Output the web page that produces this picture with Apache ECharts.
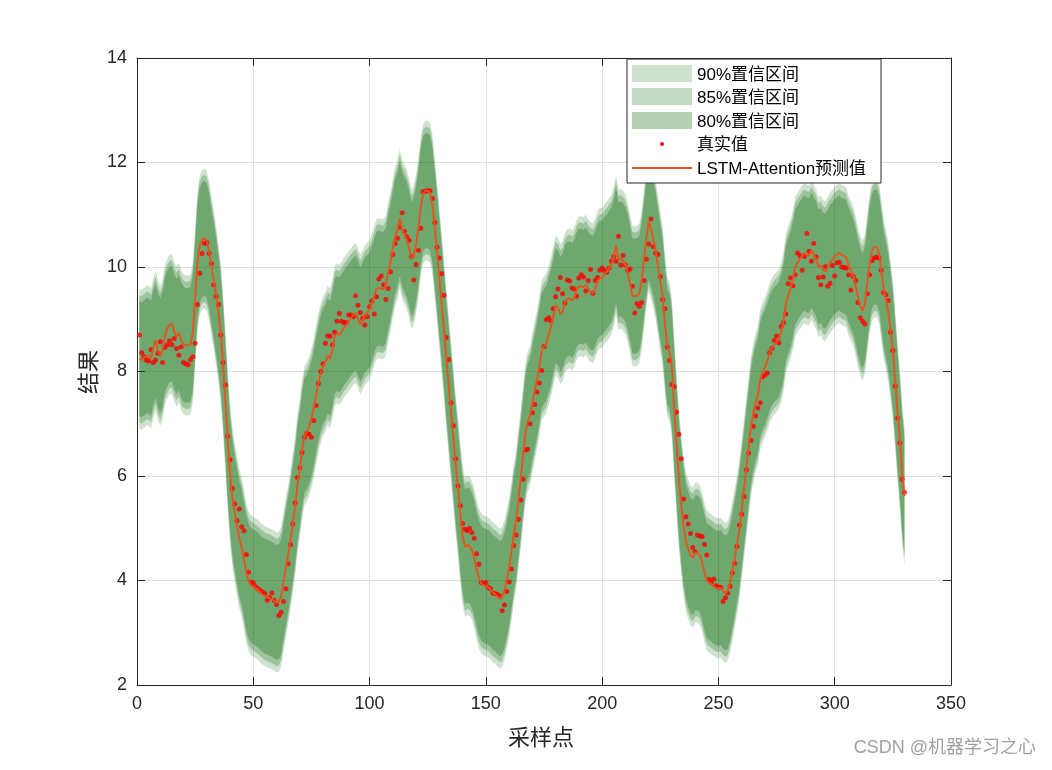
<!DOCTYPE html>
<html><head><meta charset="utf-8">
<script src="https://cdn.jsdelivr.net/npm/echarts@6/dist/echarts.min.js"></script>
<style>html,body{margin:0;padding:0;background:#fff}#c{width:1052px;height:770px}</style>
</head><body><div id="c"></div>
<script>
// ---------------- data ----------------
const xTicks = [0, 50, 100, 150, 200, 250, 300, 350];
const yTicks = [2, 4, 6, 8, 10, 12, 14];

// LSTM-Attention prediction, samples 1..330
const predValues = [
 8.25, 8.22, 8.26, 8.30, 8.30, 8.25, 8.45, 8.60, 8.40, 8.30,
 8.42, 8.70, 8.82, 8.90, 8.91, 8.76, 8.67, 8.74, 8.60, 8.52,
 8.50, 8.50, 8.52, 8.75, 9.40, 10.10, 10.42, 10.52, 10.55, 10.50,
 10.30, 10.02, 9.75, 9.45, 9.12, 8.73, 8.15, 7.45, 6.70, 6.05,
 5.60, 5.30, 5.05, 4.80, 4.64, 4.40, 4.15, 3.98, 3.91, 3.88,
 3.85, 3.82, 3.77, 3.73, 3.70, 3.68, 3.66, 3.64, 3.61, 3.58,
 3.60, 3.70, 3.98, 4.25, 4.50, 4.78, 5.10, 5.42, 5.85, 6.15,
 6.50, 6.78, 6.84, 6.95, 7.10, 7.30, 7.55, 7.78, 7.97, 8.10,
 8.18, 8.30, 8.25, 8.42, 8.68, 8.73, 8.70, 8.76, 8.84, 8.90,
 8.96, 9.02, 9.08, 9.12, 9.02, 8.90, 8.98, 9.08, 9.13, 9.18,
 9.30, 9.45, 9.58, 9.60, 9.58, 9.58, 9.65, 9.90, 10.10, 10.35,
 10.58, 10.72, 10.93, 10.72, 10.62, 10.52, 10.36, 10.15, 10.22, 10.45,
 10.75, 11.15, 11.40, 11.46, 11.46, 11.42, 11.20, 10.75, 10.30, 9.80,
 9.30, 8.80, 8.25, 7.75, 7.25, 6.74, 6.24, 5.80, 5.30, 4.88,
 4.64, 4.68, 4.66, 4.58, 4.42, 4.22, 4.05, 3.95, 3.91, 3.89,
 3.87, 3.83, 3.77, 3.74, 3.70, 3.65, 3.69, 3.82, 4.02, 4.25,
 4.55, 4.90, 5.15, 5.55, 5.95, 6.38, 6.80, 7.05, 7.15, 7.40,
 7.62, 7.85, 8.10, 8.40, 8.48, 8.54, 8.70, 8.85, 9.06, 9.26,
 9.22, 9.10, 9.15, 9.32, 9.38, 9.40, 9.36, 9.42, 9.56, 9.63,
 9.63, 9.61, 9.66, 9.58, 9.52, 9.50, 9.58, 9.72, 9.79, 9.79,
 9.86, 9.91, 9.98, 10.04, 10.20, 10.42, 10.14, 10.16, 10.12, 10.05,
 9.90, 9.68, 9.45, 9.44, 9.45, 9.50, 9.75, 10.15, 10.55, 10.87,
 10.72, 10.55, 10.32, 10.02, 9.72, 9.44, 8.93, 8.48, 8.38, 8.05,
 7.30, 6.60, 5.95, 5.45, 5.05, 4.75, 4.60, 4.48, 4.44, 4.53,
 4.53, 4.49, 4.35, 4.15, 4.00, 3.96, 3.93, 3.89, 3.86, 3.85,
 3.86, 3.80, 3.76, 3.80, 3.95, 4.18, 4.42, 4.68, 4.98, 5.35,
 5.75, 6.15, 6.55, 6.95, 7.20, 7.40, 7.55, 7.85, 7.98, 8.08,
 8.20, 8.35, 8.45, 8.52, 8.56, 8.62, 8.75, 8.95, 9.30, 9.45,
 9.58, 9.75, 10.00, 10.08, 10.15, 10.22, 10.27, 10.23, 10.22, 10.32,
 10.24, 10.15, 10.00, 10.03, 9.94, 9.92, 10.00, 10.08, 10.14, 10.20,
 10.24, 10.27, 10.23, 10.21, 10.18, 10.02, 9.93, 9.82, 9.64, 9.42,
 9.26, 9.16, 9.30, 9.68, 10.05, 10.30, 10.38, 10.38, 10.28, 9.95,
 9.60, 9.38, 9.15, 8.80, 8.40, 7.85, 7.25, 6.70, 6.05, 5.62
];

// observed values, samples 1..330
const trueValues = [
 8.70, 8.36, 8.28, 8.22, 8.20, 8.42, 8.17, 8.22, 8.35, 8.57,
 8.17, 8.46, 8.51, 8.59, 8.51, 8.63, 8.44, 8.31, 8.47, 8.17,
 8.15, 8.13, 8.23, 8.28, 8.54, 9.28, 9.88, 10.26, 10.45, 10.47,
 10.26, 10.06, 9.66, 9.44, 9.28, 8.70, 8.17, 7.74, 6.76, 6.31,
 5.76, 5.47, 5.15, 5.37, 5.03, 4.95, 4.50, 4.16, 3.97, 3.95,
 3.88, 3.84, 3.81, 3.78, 3.74, 3.62, 3.67, 3.76, 3.62, 3.54,
 3.33, 3.39, 3.60, 3.84, 4.32, 4.69, 5.08, 5.49, 5.97, 6.16,
 6.45, 6.74, 6.82, 6.80, 6.74, 7.06, 7.35, 7.77, 8.00, 8.15,
 8.54, 8.68, 8.68, 8.51, 8.75, 8.96, 9.11, 8.96, 8.94, 8.94,
 9.08, 9.08, 9.05, 9.45, 9.27, 9.13, 9.02, 8.89, 9.05, 9.24,
 9.35, 9.10, 9.43, 9.77, 9.83, 9.66, 9.38, 9.59, 9.91, 10.24,
 10.45, 10.55, 10.76, 11.04, 10.68, 10.58, 10.51, 10.20, 9.75, 10.05,
 10.32, 10.74, 11.44, 11.45, 11.46, 11.46, 11.31, 10.85, 10.38, 10.17,
 9.87, 9.46, 8.65, 8.23, 7.40, 6.96, 6.33, 5.81, 5.43, 5.09,
 4.98, 4.95, 5.00, 4.92, 4.81, 4.51, 4.31, 3.96, 3.94, 3.96,
 3.87, 3.84, 3.76, 3.75, 3.73, 3.70, 3.42, 3.53, 3.79, 3.97,
 4.22, 4.67, 4.87, 5.17, 5.54, 5.94, 6.50, 6.51, 7.00, 7.21,
 7.37, 7.61, 7.78, 8.02, 8.48, 8.99, 9.03, 8.97, 9.20, 9.43,
 9.58, 9.80, 9.49, 9.31, 9.75, 9.73, 9.60, 9.58, 9.44, 9.79,
 9.85, 9.81, 9.54, 9.74, 9.95, 9.50, 9.74, 9.80, 9.94, 9.98,
 9.94, 9.90, 9.98, 10.11, 10.20, 10.11, 10.59, 10.04, 10.22, 10.04,
 9.94, 9.96, 9.63, 9.12, 9.30, 9.25, 9.32, 9.74, 10.15, 10.44,
 10.92, 10.39, 10.27, 10.24, 9.82, 9.38, 9.20, 8.47, 8.21, 7.75,
 7.71, 7.22, 6.80, 6.33, 5.56, 5.22, 5.08, 4.90, 4.63, 4.55,
 4.87, 4.85, 4.84, 4.69, 4.49, 4.02, 3.97, 4.03, 3.90, 3.87,
 3.87, 3.60, 3.67, 3.76, 3.89, 4.15, 4.33, 4.65, 5.06, 5.27,
 5.61, 6.12, 6.44, 6.68, 6.95, 7.15, 7.30, 7.40, 7.90, 7.93,
 7.97, 8.36, 8.44, 8.60, 8.68, 8.55, 8.86, 8.94, 9.10, 9.68,
 9.79, 9.64, 9.85, 10.27, 10.22, 9.94, 10.20, 10.64, 10.30, 10.11,
 10.45, 10.19, 9.80, 9.66, 9.81, 10.01, 9.63, 9.69, 10.03, 9.83,
 10.08, 10.09, 10.00, 9.99, 9.98, 9.85, 9.56, 9.82, 9.74, 9.32,
 9.03, 8.96, 8.91, 9.49, 9.85, 10.12, 10.17, 10.19, 10.17, 9.94,
 9.51, 9.47, 9.36, 8.75, 8.40, 7.72, 7.11, 6.63, 5.94, 5.69
];

// half-widths of the confidence intervals around the prediction
const halfWidth90 = 1.34;
const halfWidth85 = 1.22;
const halfWidth80 = 1.10;

const legendNames = ['90%置信区间', '85%置信区间', '80%置信区间', '真实值', 'LSTM-Attention预测值'];

// ---------------- chart ----------------
const chart = echarts.init(document.getElementById('c'), null, {renderer: 'canvas'});
const sample = i => i + 1;
const predPts = predValues.map((v, i) => [sample(i), v]);
const truePts = trueValues.map((v, i) => [sample(i), v]);

function band(name, hw, alpha) {
  const pts = predValues.map((v, i) => [sample(i), v - hw, v + hw]);
  return {
    name: name, type: 'custom', silent: true, z: 1,
    encode: { x: 0, y: [1, 2] },
    data: pts,
    renderItem: function (params, api) {
      if (params.dataIndex !== 0) return null;
      const upper = pts.map(p => api.coord([p[0], p[2]]));
      const lower = pts.map(p => api.coord([p[0], p[1]])).reverse();
      return {
        type: 'polygon',
        shape: { points: upper.concat(lower) },
        style: { fill: 'rgba(0,101,0,' + alpha + ')', stroke: null }
      };
    }
  };
}

const axisColor = '#262626';
const tickFont = { fontFamily: 'Liberation Sans, Arial, sans-serif', fontSize: 18, color: axisColor };
const cjk = '"Noto Sans CJK SC", "Liberation Sans", sans-serif';
const mixed = '"Liberation Sans", "Noto Sans CJK SC", sans-serif';

const option = {
  animation: false,
  backgroundColor: '#ffffff',
  grid: { left: 137, right: 101, top: 58, bottom: 85, containLabel: false },
  xAxis: [
    { type: 'value', min: xTicks[0], max: xTicks[xTicks.length - 1], interval: 50,
      axisLine: { show: true, onZero: false, lineStyle: { color: axisColor, width: 1 } },
      axisTick: { show: true, inside: true, length: 8, lineStyle: { color: axisColor } },
      axisLabel: Object.assign({ margin: 10 }, tickFont),
      splitLine: { show: true, lineStyle: { color: '#dfdfdf', width: 1 } } },
    { type: 'value', position: 'top', min: xTicks[0], max: xTicks[xTicks.length - 1], interval: 50,
      axisLine: { show: true, onZero: false, lineStyle: { color: axisColor, width: 1 } },
      axisTick: { show: true, inside: true, length: 8, lineStyle: { color: axisColor } },
      axisLabel: { show: false }, splitLine: { show: false } }
  ],
  yAxis: [
    { type: 'value', min: yTicks[0], max: yTicks[yTicks.length - 1], interval: 2,
      axisLine: { show: true, onZero: false, lineStyle: { color: axisColor, width: 1 } },
      axisTick: { show: true, inside: true, length: 8, lineStyle: { color: axisColor } },
      axisLabel: Object.assign({ margin: 10 }, tickFont),
      splitLine: { show: true, lineStyle: { color: '#dfdfdf', width: 1 } } },
    { type: 'value', position: 'right', min: yTicks[0], max: yTicks[yTicks.length - 1], interval: 2,
      axisLine: { show: true, onZero: false, lineStyle: { color: axisColor, width: 1 } },
      axisTick: { show: true, inside: true, length: 8, lineStyle: { color: axisColor } },
      axisLabel: { show: false }, splitLine: { show: false } }
  ],
  series: [
    band(legendNames[0], halfWidth90, 0.19),
    band(legendNames[1], halfWidth85, 0.24),
    band(legendNames[2], halfWidth80, 0.29),
    { name: legendNames[3], type: 'scatter', symbol: 'circle', symbolSize: 5,
      itemStyle: { color: '#ff0000' }, z: 3, data: truePts },
    { name: legendNames[4], type: 'line', symbol: 'none', z: 4,
      lineStyle: { color: '#e8531d', width: 1.9 }, data: predPts }
  ],
  graphic: [
    // axis titles
    { type: 'text', left: 508, top: 726, style: { text: '采样点', font: '22px ' + cjk, fill: axisColor } },
    { type: 'text', x: 77, y: 394, rotation: Math.PI / 2,
      style: { text: '结果', font: '22px ' + cjk, fill: axisColor } },
    // legend box
    { type: 'rect', shape: { x: 627, y: 59, width: 254, height: 124 },
      style: { fill: '#ffffff', stroke: axisColor, lineWidth: 1 }, z: 100 },
    { type: 'rect', shape: { x: 632, y: 65, width: 60, height: 17 }, style: { fill: 'rgba(0,101,0,0.19)' }, z: 101 },
    { type: 'rect', shape: { x: 632, y: 88, width: 60, height: 17 }, style: { fill: 'rgba(0,101,0,0.24)' }, z: 101 },
    { type: 'rect', shape: { x: 632, y: 112, width: 60, height: 17 }, style: { fill: 'rgba(0,101,0,0.29)' }, z: 101 },
    { type: 'circle', shape: { cx: 662, cy: 144, r: 2 }, style: { fill: '#ff0000' }, z: 101 },
    { type: 'line', shape: { x1: 632, y1: 168, x2: 692, y2: 168 }, style: { stroke: '#e8531d', lineWidth: 1.9 }, z: 101 },
    { type: 'text', x: 697, y: 75, style: { text: legendNames[0], font: '17px ' + mixed, fill: '#000', verticalAlign: 'middle' }, z: 101 },
    { type: 'text', x: 697, y: 98, style: { text: legendNames[1], font: '17px ' + mixed, fill: '#000', verticalAlign: 'middle' }, z: 101 },
    { type: 'text', x: 697, y: 122, style: { text: legendNames[2], font: '17px ' + mixed, fill: '#000', verticalAlign: 'middle' }, z: 101 },
    { type: 'text', x: 697, y: 145, style: { text: legendNames[3], font: '17px ' + mixed, fill: '#000', verticalAlign: 'middle' }, z: 101 },
    { type: 'text', x: 697, y: 169, style: { text: legendNames[4], font: '17px ' + mixed, fill: '#000', verticalAlign: 'middle' }, z: 101 },
    // watermark
    { type: 'text', right: 16, top: 739, style: { text: 'CSDN @机器学习之心', font: '18px ' + mixed, fill: '#a0a0a0' } }
  ]
};
chart.setOption(option);
</script>
</body></html>
